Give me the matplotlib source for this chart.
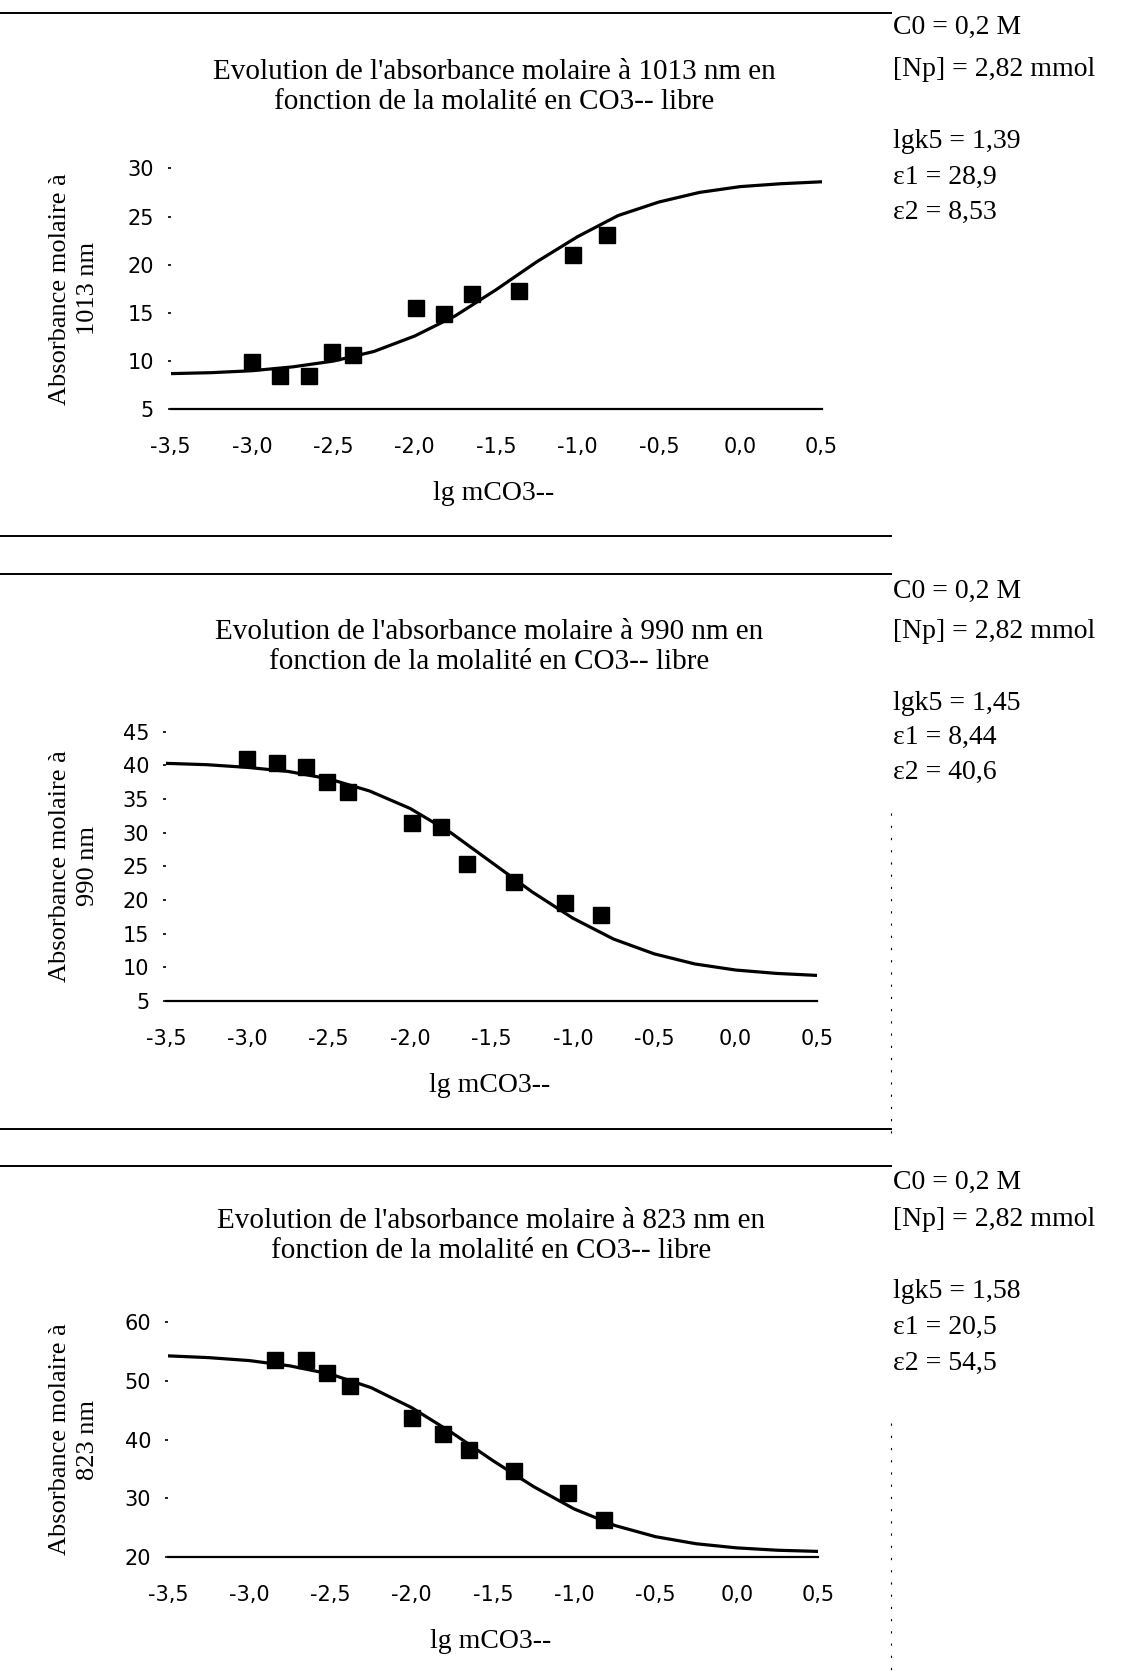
import matplotlib.pyplot as plt
from matplotlib.lines import Line2D

W, H = 1131, 1678

x_ticks = [-3.5, -3.0, -2.5, -2.0, -1.5, -1.0, -0.5, 0.0, 0.5]
x_tick_labels = ["-3,5", "-3,0", "-2,5", "-2,0", "-1,5", "-1,0", "-0,5", "0,0", "0,5"]
curve_x = [-3.5, -3.25, -3.0, -2.75, -2.5, -2.25, -2.0, -1.75, -1.5,
           -1.25, -1.0, -0.75, -0.5, -0.25, 0.0, 0.25, 0.5]

# 1013 nm
pts1_x = [-3.00, -2.83, -2.65, -2.51, -2.38, -1.99, -1.82, -1.65, -1.36, -1.03, -0.82]
pts1_y = [9.9, 8.5, 8.5, 10.9, 10.6, 15.5, 14.9, 17.0, 17.3, 21.0, 23.1]
curve1_y = [8.7, 8.8, 9.0, 9.4, 10.0, 11.0, 12.6, 14.7, 17.4,
            20.3, 22.9, 25.1, 26.5, 27.5, 28.1, 28.4, 28.6]
y1_ticks = [5, 10, 15, 20, 25, 30]

# 990 nm
pts2_x = [-3.00, -2.82, -2.64, -2.51, -2.38, -1.99, -1.81, -1.65, -1.36, -1.05, -0.83]
pts2_y = [40.9, 40.3, 39.8, 37.6, 36.1, 31.4, 30.9, 25.4, 22.7, 19.5, 17.8]
curve2_y = [40.3, 40.1, 39.7, 39.1, 38.0, 36.2, 33.6, 30.0, 25.6,
            21.2, 17.3, 14.2, 12.0, 10.5, 9.6, 9.1, 8.8]
y2_ticks = [5, 10, 15, 20, 25, 30, 35, 40, 45]

# 823 nm
pts3_x = [-2.84, -2.65, -2.52, -2.38, -2.00, -1.81, -1.65, -1.37, -1.04, -0.82]
pts3_y = [53.5, 53.5, 51.3, 49.1, 43.6, 40.9, 38.2, 34.6, 30.9, 26.3]
curve3_y = [54.2, 53.9, 53.4, 52.5, 51.1, 48.8, 45.4, 41.1, 36.4,
            32.0, 28.2, 25.4, 23.5, 22.3, 21.6, 21.2, 21.0]
y3_ticks = [20, 30, 40, 50, 60]

titles = ["Evolution de l'absorbance molaire à 1013 nm en\nfonction de la molalité en CO3-- libre",
          "Evolution de l'absorbance molaire à 990 nm en\nfonction de la molalité en CO3-- libre",
          "Evolution de l'absorbance molaire à 823 nm en\nfonction de la molalité en CO3-- libre"]
ylabels = ["Absorbance molaire à\n1013 nm", "Absorbance molaire à\n990 nm", "Absorbance molaire à\n823 nm"]
params = [["C0 = 0,2 M", "[Np] = 2,82 mmol", "lgk5 = 1,39", "ε1 = 28,9", "ε2 = 8,53"],
          ["C0 = 0,2 M", "[Np] = 2,82 mmol", "lgk5 = 1,45", "ε1 = 8,44", "ε2 = 40,6"],
          ["C0 = 0,2 M", "[Np] = 2,82 mmol", "lgk5 = 1,58", "ε1 = 20,5", "ε2 = 54,5"]]

serif = "Liberation Serif"
sans = "DejaVu Sans"

fig = plt.figure(figsize=(W / 100, H / 100), dpi=100)


def fx(x):
    return x / W


def fy(y):
    return 1 - y / H


def panel(box, px, py, cy, yticks, title, ylabel, lines, title_y, param_y):
    left, top, right, bottom = box
    ax = fig.add_axes([fx(left), fy(bottom), (right - left) / W, (bottom - top) / H])
    ax.plot(curve_x, cy, color="black", lw=2.3)
    ax.plot(px, py, "s", color="black", markersize=11)
    ax.set_xlim(-3.5, 0.5)
    ax.set_ylim(yticks[0], yticks[-1])
    ax.set_xticks(x_ticks)
    ax.set_xticklabels(x_tick_labels)
    ax.set_yticks(yticks)
    for s in ["top", "right", "left"]:
        ax.spines[s].set_visible(False)
    ax.spines["bottom"].set_linewidth(1.6)
    ax.tick_params(axis="x", length=0, pad=20, labelsize=15)
    ax.tick_params(axis="y", length=2, width=1.2, pad=10, labelsize=15)
    for lab in ax.get_xticklabels() + ax.get_yticklabels():
        lab.set_fontfamily(sans)
    ax.patch.set_alpha(0)
    cx = (left + right) / 2
    fig.text(fx(cx - 2), fy(title_y), title, ha="center", va="center",
             fontsize=21, family=serif, linespacing=1.2)
    fig.text(fx(cx - 2), fy(bottom + 84), "lg mCO3--", ha="center", va="center",
             fontsize=20, family=serif)
    fig.text(fx(74), fy((top + bottom) / 2), ylabel, ha="center", va="center",
             rotation=90, fontsize=19, family=serif, linespacing=1.3)
    for t, yy in zip(lines, param_y):
        fig.text(fx(893), fy(yy), t, ha="left", va="center", fontsize=20, family=serif)


panel((170.5, 168.3, 821.6, 409.3), pts1_x, pts1_y, curve1_y, y1_ticks, titles[0], ylabels[0],
      params[0], 87, [27, 70, 142, 177, 212])
panel((166, 731.7, 817, 1001), pts2_x, pts2_y, curve2_y, y2_ticks, titles[1], ylabels[1],
      params[1], 647, [591, 631, 703, 737, 772])
panel((168, 1321.7, 818, 1557.3), pts3_x, pts3_y, curve3_y, y3_ticks, titles[2], ylabels[2],
      params[2], 1236, [1182, 1220, 1292, 1327, 1363])

# page rules
for yy in [13, 536, 574, 1129, 1166]:
    fig.add_artist(Line2D([0, fx(891)], [fy(yy), fy(yy)], color="black", lw=1.4))
for y0, y1 in [(813, 1134), (1423, 1678)]:
    fig.add_artist(Line2D([fx(891), fx(891)], [fy(y0), fy(y1)], color="black",
                          lw=0.8, ls=(0, (2, 9))))

fig.savefig("out.png", dpi=100, facecolor="white")
